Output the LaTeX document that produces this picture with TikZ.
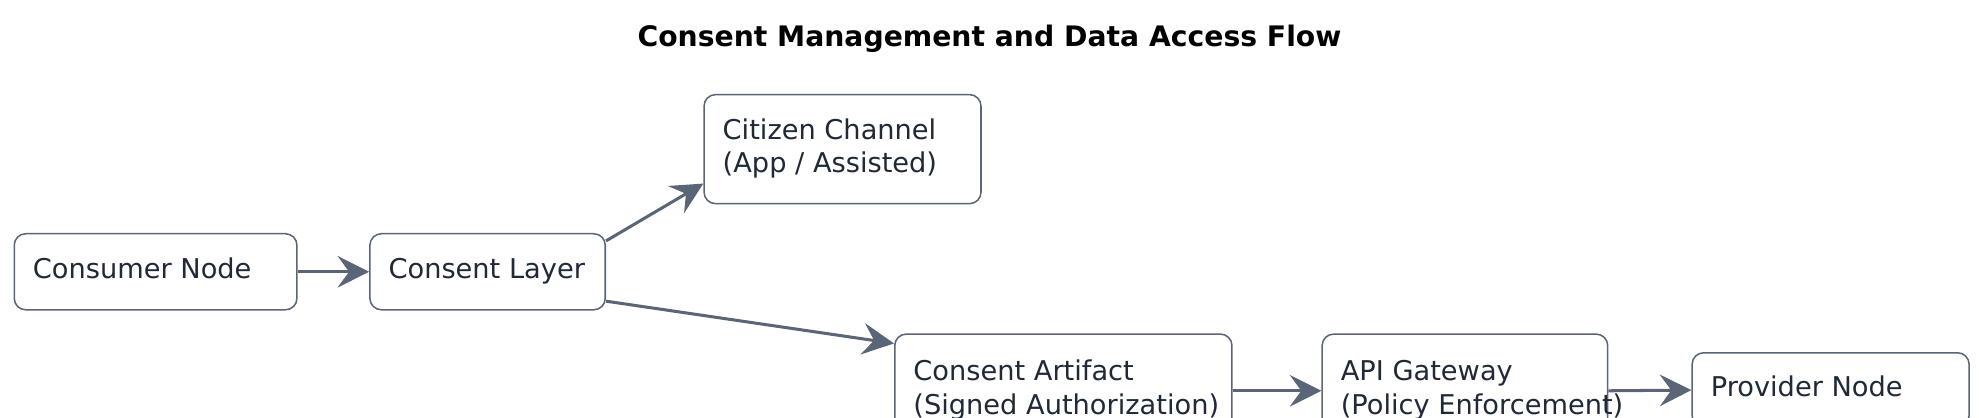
\documentclass[tikz,border=0pt]{standalone}
\usepackage{fontspec}
\setmainfont{DejaVu Sans}
\usetikzlibrary{arrows.meta}
\definecolor{edgegray}{HTML}{5A6577}
\definecolor{textdark}{HTML}{1F2937}
\tikzset{>=stealth}
\newcommand{\boxtext}[2]{\makebox[#1][l]{\begin{tabular}{@{}l@{}}#2\end{tabular}}}

\begin{document}
\begin{tikzpicture}[x=0.01cm,y=-0.01cm,
    box/.style={draw=edgegray, line width=0.3pt, rounded corners=0.08cm, fill=white,
      text=textdark, font=\fontsize{5.4}{6.6}\selectfont, inner xsep=0.13cm,
      inner ysep=0pt, anchor=center},
    flow/.style={-{Stealth[length=2.2mm,width=2.2mm,inset=0.8mm]}, edgegray, line width=0.6pt}]
      \useasboundingbox (0,0) rectangle (1380,291);
      \node[font=\bfseries\fontsize{5.6}{7}\selectfont] (title) at (690,27) {Consent Management and Data Access Flow};
      % the boxes
      \node[box, minimum height=0.53cm] (consumer) at (108.5,189.5) {\boxtext{1.71cm}{Consumer Node}};
      \node[box, minimum height=0.53cm] (layer) at (340,189.5) {\boxtext{1.38cm}{Consent Layer}};
      \node[box, minimum height=0.76cm] (citizen) at (587.5,104) {\boxtext{1.67cm}{Citizen Channel\\(App / Assisted)}};
      \node[box, minimum height=0.79cm] (artifact) at (741.5,272.5) {\boxtext{2.09cm}{Consent Artifact\\(Signed Authorization)}};
      \node[box, minimum height=0.79cm] (gateway) at (1021.5,272.5) {\boxtext{1.73cm}{API Gateway\\(Policy Enforcement)}};
      \node[box, minimum height=0.52cm] (provider) at (1276.5,272) {\boxtext{1.67cm}{Provider Node}};
      % the connectors
      \draw[flow] (consumer.east) -- (layer.west);
      \draw[flow] ([yshift=0.215cm]layer.east) -- ([yshift=-0.24cm]citizen.west);
      \draw[flow] ([yshift=-0.205cm]layer.east) -- ([yshift=0.33cm]artifact.west);
      \draw[flow] (artifact.east) -- (gateway.west);
      \draw[flow] (gateway.east) -- (provider.west);
\end{tikzpicture}
\end{document}
